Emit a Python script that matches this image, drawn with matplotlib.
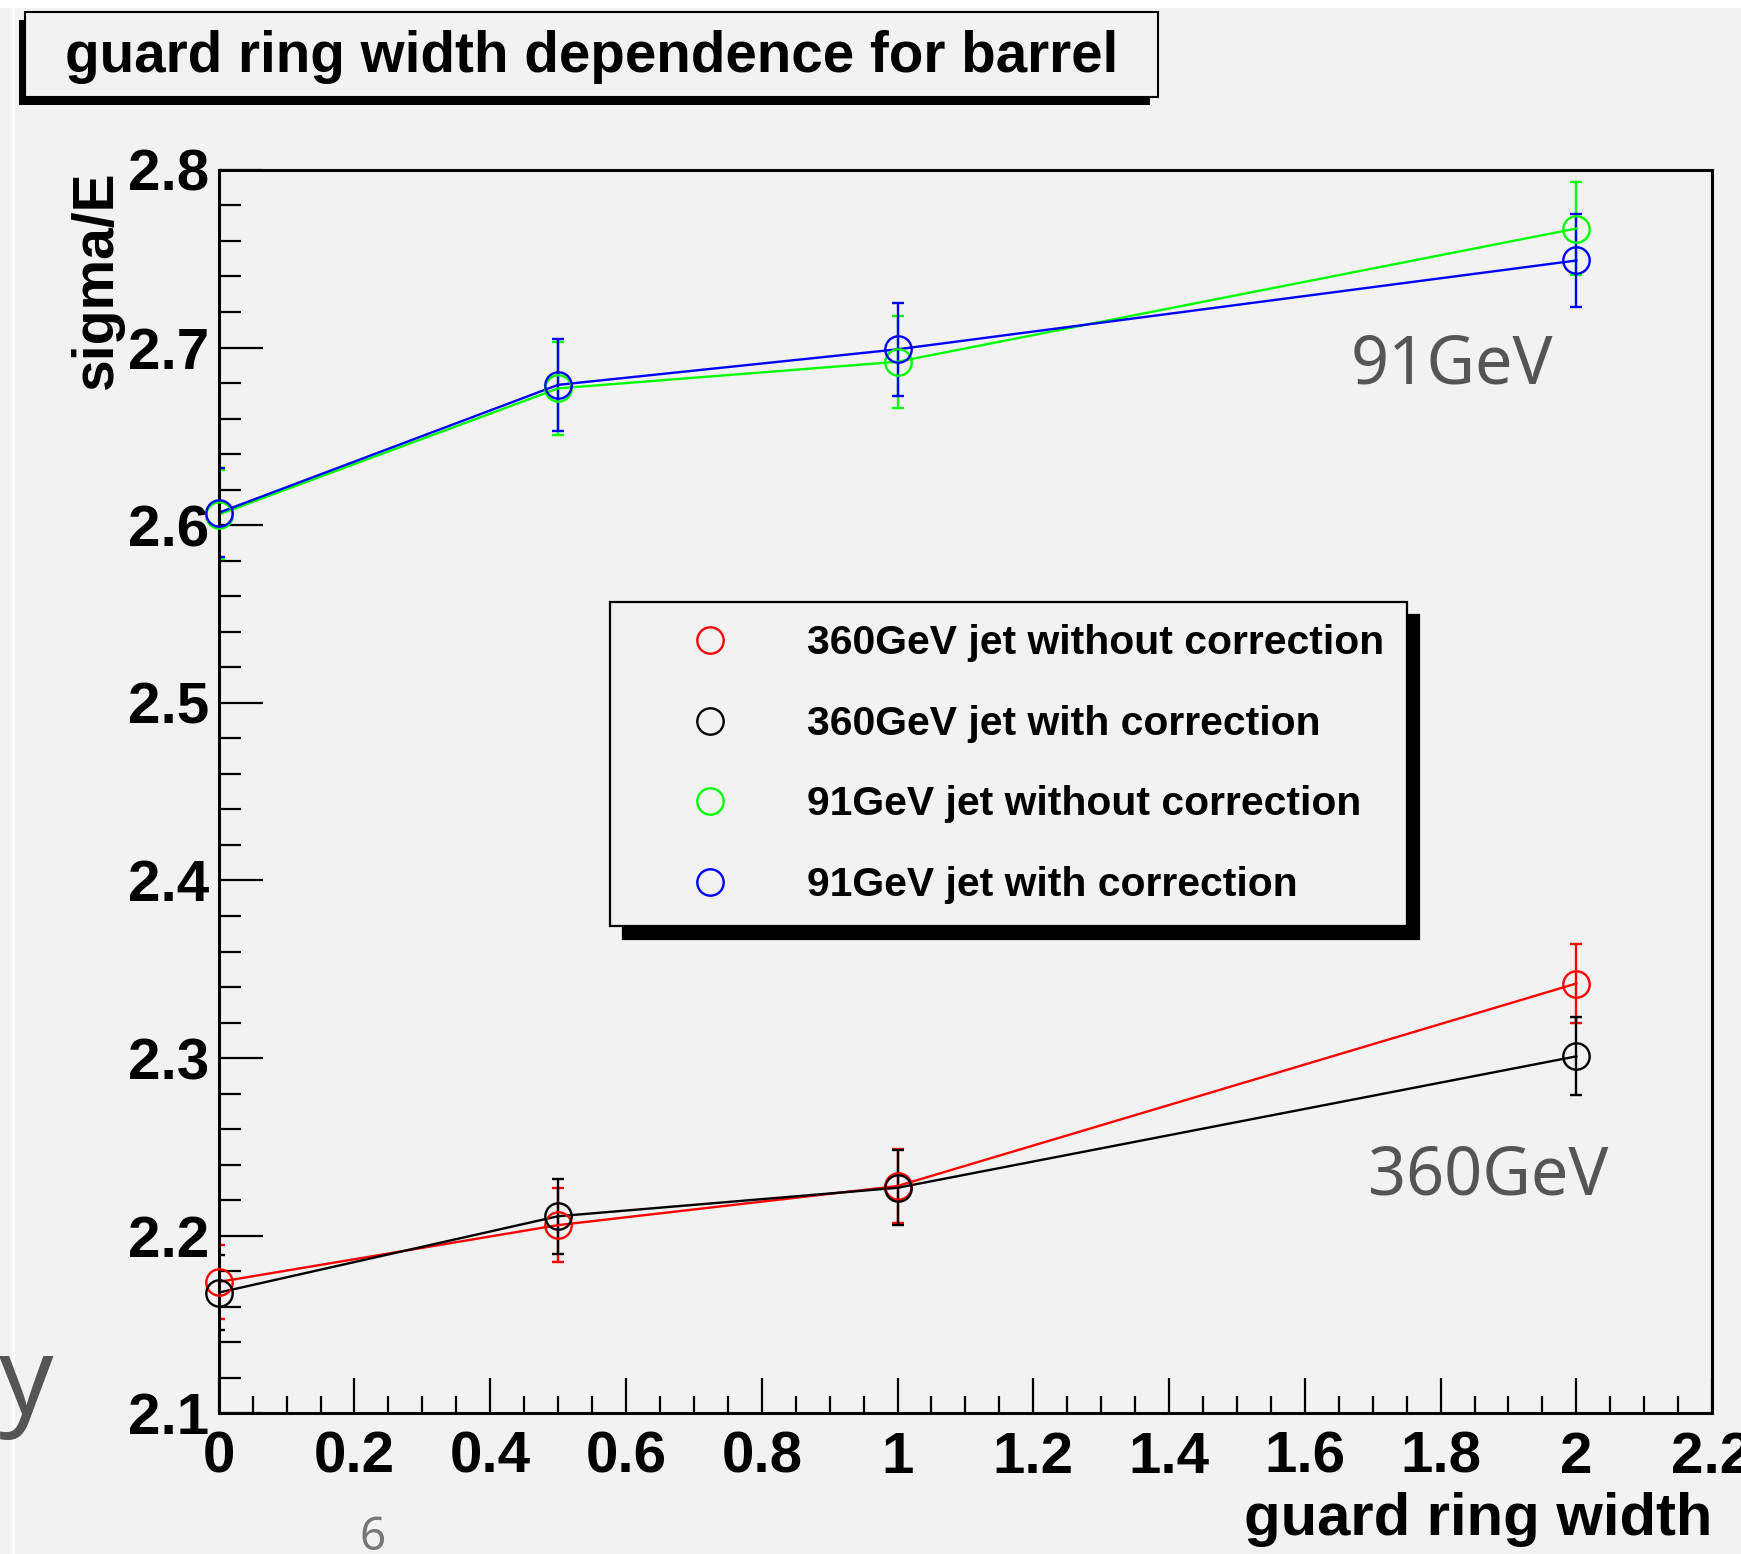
import matplotlib
matplotlib.use("Agg")
import matplotlib.pyplot as plt
from matplotlib.lines import Line2D
from matplotlib.patches import Rectangle
from matplotlib.ticker import MultipleLocator, FuncFormatter

# ---------- data ----------
widths = [0, 0.5, 1, 2]

sig_360_nocorr = [2.174, 2.206, 2.228, 2.342]
err_360_nocorr = [0.021, 0.021, 0.021, 0.022]
sig_360_corr = [2.168, 2.211, 2.227, 2.301]
err_360_corr = [0.021, 0.021, 0.021, 0.022]
sig_91_nocorr = [2.606, 2.677, 2.692, 2.767]
err_91_nocorr = [0.025, 0.026, 0.026, 0.026]
sig_91_corr = [2.607, 2.679, 2.699, 2.749]
err_91_corr = [0.025, 0.026, 0.026, 0.026]

labels = ["360GeV jet without correction", "360GeV jet with correction",
          "91GeV jet without correction", "91GeV jet with correction"]
colors = ["#ff0000", "#000000", "#00ff00", "#0000ff"]

# ---------- figure ----------
W, H = 1741, 1554
BG = "#f2f2f2"
plt.rcParams["font.family"] = ["Liberation Sans", "DejaVu Sans"]
fig = plt.figure(figsize=(W / 100, H / 100), dpi=100, facecolor=BG)


def fx(px):
    return px / W


def fy(py):
    return 1 - py / H


ax = fig.add_axes([fx(218.7), fy(1413.4), fx(1712.1) - fx(218.7), fy(169.9) - fy(1413.4)])
ax.set_facecolor(BG)

series = [(sig_360_nocorr, err_360_nocorr), (sig_360_corr, err_360_corr),
          (sig_91_nocorr, err_91_nocorr), (sig_91_corr, err_91_corr)]
for (vals, errs), c in zip(series, colors):
    ax.errorbar(widths, vals, yerr=errs, fmt="-", color=c, lw=1.7,
                elinewidth=1.7, capsize=4.3, capthick=1.7)
    ax.plot(widths, vals, "o", mfc="none", mec=c, ms=19, mew=1.7, clip_on=False, zorder=3)

ax.set_xlim(0, 2.2)
ax.set_ylim(2.1, 2.8)

ax.xaxis.set_major_locator(MultipleLocator(0.2))
ax.xaxis.set_minor_locator(MultipleLocator(0.05))
ax.yaxis.set_major_locator(MultipleLocator(0.1))
ax.yaxis.set_minor_locator(MultipleLocator(0.02))
fmt = FuncFormatter(lambda v, p: "%g" % round(v, 2))
ax.xaxis.set_major_formatter(fmt)
ax.yaxis.set_major_formatter(fmt)

ax.tick_params(axis="both", which="both", direction="in", top=False, right=False,
               width=1.6, colors="black")
ax.tick_params(axis="y", which="major", length=31.5, pad=7)
ax.tick_params(axis="y", which="minor", length=15.8)
ax.tick_params(axis="x", which="major", length=25, pad=12.5)
ax.tick_params(axis="x", which="minor", length=12.5)
for lab in ax.get_xticklabels() + ax.get_yticklabels():
    lab.set_fontsize(42)
    lab.set_fontweight("bold")

for s in ax.spines.values():
    s.set_linewidth(2.2)
    s.set_color("black")

ax.set_xlabel("guard ring width", fontsize=43, fontweight="bold", loc="right")
ax.xaxis.set_label_coords(1.0, -0.0633)
ax.set_ylabel("sigma/E", fontsize=41, fontweight="bold", loc="top")
ax.yaxis.set_label_coords(-0.0636, 1.0)

# energy annotations
ax.text(1.668, 2.680, "91GeV", family="Noto Sans", fontsize=48, color="#555555")
ax.text(1.693, 2.2235, "360GeV", family="Noto Sans", fontsize=48, color="#555555")

# legend
handles = [Line2D([], [], ls="none", marker="o", mfc="none", mec=c, ms=19, mew=1.7)
           for c in colors]
leg = ax.legend(handles, labels, loc="upper left",
                bbox_to_anchor=(fx(610), fy(602)), bbox_transform=fig.transFigure,
                borderaxespad=0, fancybox=False, edgecolor="black", facecolor=BG,
                framealpha=1, shadow={"ox": 9, "oy": -9.4, "shade": 1.0, "alpha": 1},
                prop={"size": 29.4, "weight": "bold"}, handlelength=3.8,
                handletextpad=0.48, borderpad=0.55, labelspacing=1.04)
leg.get_frame().set_linewidth(1.6)

# title box with shadow
fig.add_artist(Rectangle((fx(19), fy(105)), fx(1150) - fx(19), fy(20) - fy(105),
                         transform=fig.transFigure, facecolor="black", edgecolor="none"))
fig.add_artist(Rectangle((fx(25), fy(97)), fx(1158) - fx(25), fy(12) - fy(97),
                         transform=fig.transFigure, facecolor=BG, edgecolor="black", lw=1.5))
fig.text(fx(65), fy(72), "guard ring width dependence for barrel", fontsize=40.7,
         fontweight="bold", va="baseline", ha="left")

# slide leftovers around the plot
fig.add_artist(Rectangle((0, fy(8)), 1, fy(0) - fy(8), transform=fig.transFigure,
                         facecolor="white", edgecolor="none"))
fig.add_artist(Rectangle((fx(12), 0), fx(3), 1, transform=fig.transFigure,
                         facecolor="white", edgecolor="none"))
fig.text(fx(-1), fy(1414), "y", family="Noto Sans", fontsize=77, color="#555555",
         va="baseline", ha="left")
fig.text(fx(360), fy(1550), "6", family="Noto Sans", fontsize=33, color="#777777",
         va="baseline", ha="left")

fig.savefig("out.png", dpi=100, facecolor=BG)
